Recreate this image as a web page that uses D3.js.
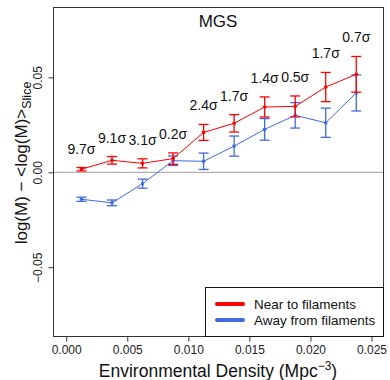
<!DOCTYPE html>
<html><head><meta charset="utf-8">
<script src="https://cdn.jsdelivr.net/npm/d3@7"></script>
<style>body{margin:0;background:#fff}svg{display:block}text{font-family:"Liberation Sans",Arial,sans-serif}</style>
</head><body><svg id="c" width="390" height="380"></svg>
<script>
const density = [0.00125,0.00375,0.00625,0.00875,0.01125,0.01375,0.01625,0.01875,0.02125,0.02375];
const nearVals = [0.0016,0.0063,0.0047,0.0072,0.0210,0.0258,0.0344,0.0347,0.0449,0.0516];
const nearErr  = [0.0009,0.0020,0.0024,0.0030,0.0042,0.0046,0.0053,0.0055,0.0077,0.0094];
const awayVals = [-0.0142,-0.0161,-0.0060,0.0061,0.0058,0.0138,0.0226,0.0300,0.0261,0.0418];
const awayErr  = [0.0011,0.0015,0.0024,0.0025,0.0043,0.0053,0.0057,0.0067,0.0077,0.0095];
const sigmaLabels = ["9.7σ","9.1σ","3.1σ","0.2σ","2.4σ","1.7σ","1.4σ","0.5σ","1.7σ","0.7σ"];
const xTicks = [0,0.005,0.010,0.015,0.020,0.025];
const yTicks = [-0.05,0,0.05];
const seriesNames = ["Near to filaments","Away from filaments"];

const svg = d3.select("#c");
const L=53.5,R=383.5,T=7.5,B=336.5;
const x = d3.scaleLinear().domain([-0.00104,0.02598]).range([L,R]);
const y = d3.scaleLinear().domain([-0.0865,0.0868]).range([B,T]);

// zero line
svg.append("line").attr("x1",L).attr("x2",R).attr("y1",y(0)).attr("y2",y(0))
  .attr("stroke","#b0b0b0").attr("stroke-width",1.3);

// axes
const xa = svg.append("g").attr("transform",`translate(0,${B})`)
  .call(d3.axisBottom(x).tickValues(xTicks).tickFormat(d3.format(".3f")).tickSize(5).tickPadding(4));
const ya = svg.append("g").attr("transform",`translate(${L},0)`)
  .call(d3.axisLeft(y).tickValues(yTicks).tickFormat(d=>d===0?"0.00":(d<0?"−0.05":"0.05")).tickSize(5).tickPadding(0));
[xa,ya].forEach(g=>{g.select(".domain").remove();g.selectAll("line").attr("stroke","#333");
  g.selectAll("text").attr("font-size",12).attr("fill","#222").style("font-family",'"Liberation Sans",Arial,sans-serif');});
ya.selectAll(".tick text").attr("text-anchor","middle").attr("dy",0)
  .attr("transform","translate(-16,0) rotate(-90)").attr("x",0).attr("y",0)
  .attr("dominant-baseline","central");

const series = [
  {vals:nearVals,err:nearErr,color:"#ff0000"},
  {vals:awayVals,err:awayErr,color:"#4169e1"}
];
[series[1],series[0]].forEach(s=>{
  const g = svg.append("g");
  const pts = density.map((d,i)=>({x:d,y:s.vals[i],e:s.err[i]}));
  g.append("path").datum(pts).attr("fill","none").attr("stroke",s.color).attr("stroke-width",1)
    .attr("d",d3.line().x(d=>x(d.x)).y(d=>y(d.y)));
  const eb = g.selectAll(".eb").data(pts).enter().append("g").attr("stroke",s.color).attr("stroke-width",1.3);
  eb.append("line").attr("x1",d=>x(d.x)).attr("x2",d=>x(d.x)).attr("y1",d=>y(d.y-d.e)).attr("y2",d=>y(d.y+d.e));
  eb.append("line").attr("x1",d=>x(d.x)-5).attr("x2",d=>x(d.x)+5).attr("y1",d=>y(d.y-d.e)).attr("y2",d=>y(d.y-d.e));
  eb.append("line").attr("x1",d=>x(d.x)-5).attr("x2",d=>x(d.x)+5).attr("y1",d=>y(d.y+d.e)).attr("y2",d=>y(d.y+d.e));
  g.selectAll("circle").data(pts).enter().append("circle").attr("cx",d=>x(d.x)).attr("cy",d=>y(d.y)).attr("r",1.8).attr("fill",s.color);
});

// sigma labels
svg.selectAll(".sig").data(density).enter().append("text")
  .attr("x",d=>x(d)).attr("y",(d,i)=>y(nearVals[i]+nearErr[i]+0.01))
  .attr("text-anchor","middle").attr("dominant-baseline","central").attr("font-size",14).attr("fill","#111")
  .text((d,i)=>sigmaLabels[i]);

// frame
svg.append("rect").attr("x",L).attr("y",T).attr("width",R-L).attr("height",B-T)
  .attr("fill","none").attr("stroke","#333").attr("stroke-width",1);

// title
svg.append("text").attr("x",218).attr("y",21).attr("text-anchor","middle").attr("dominant-baseline","central")
  .attr("font-size",17).attr("fill","#111").text("MGS");

// legend
const lg = svg.append("g");
lg.append("rect").attr("x",205.5).attr("y",287.5).attr("width",R-205.5).attr("height",B-287.5)
  .attr("fill","#fff").attr("stroke","#111").attr("stroke-width",1);
[ "#ff0000","#4169e1"].forEach((c,i)=>{
  const yy = 304 + i*16;
  lg.append("line").attr("x1",217).attr("x2",243).attr("y1",yy).attr("y2",yy).attr("stroke",c)
    .attr("stroke-width",4).attr("stroke-linecap","round");
  lg.append("text").attr("x",254).attr("y",yy).attr("dominant-baseline","central").attr("font-size",13.5)
    .attr("fill","#111").text(seriesNames[i]);
});

// x label
const xl = svg.append("text").attr("x",218).attr("y",377).attr("text-anchor","middle").attr("font-size",17.5).attr("fill","#111");
xl.append("tspan").text("Environmental Density (Mpc");
xl.append("tspan").attr("dy",-7).attr("font-size",12).text("−3");
xl.append("tspan").attr("dy",7).text(")");

// y label
const yl = svg.append("text").attr("transform","translate(27,163) rotate(-90)").attr("text-anchor","middle")
  .attr("font-size",17).attr("fill","#111");
yl.append("tspan").text("log(M) − <log(M)>");
yl.append("tspan").attr("dy",4).attr("font-size",12.5).text("Slice");
</script></body></html>
